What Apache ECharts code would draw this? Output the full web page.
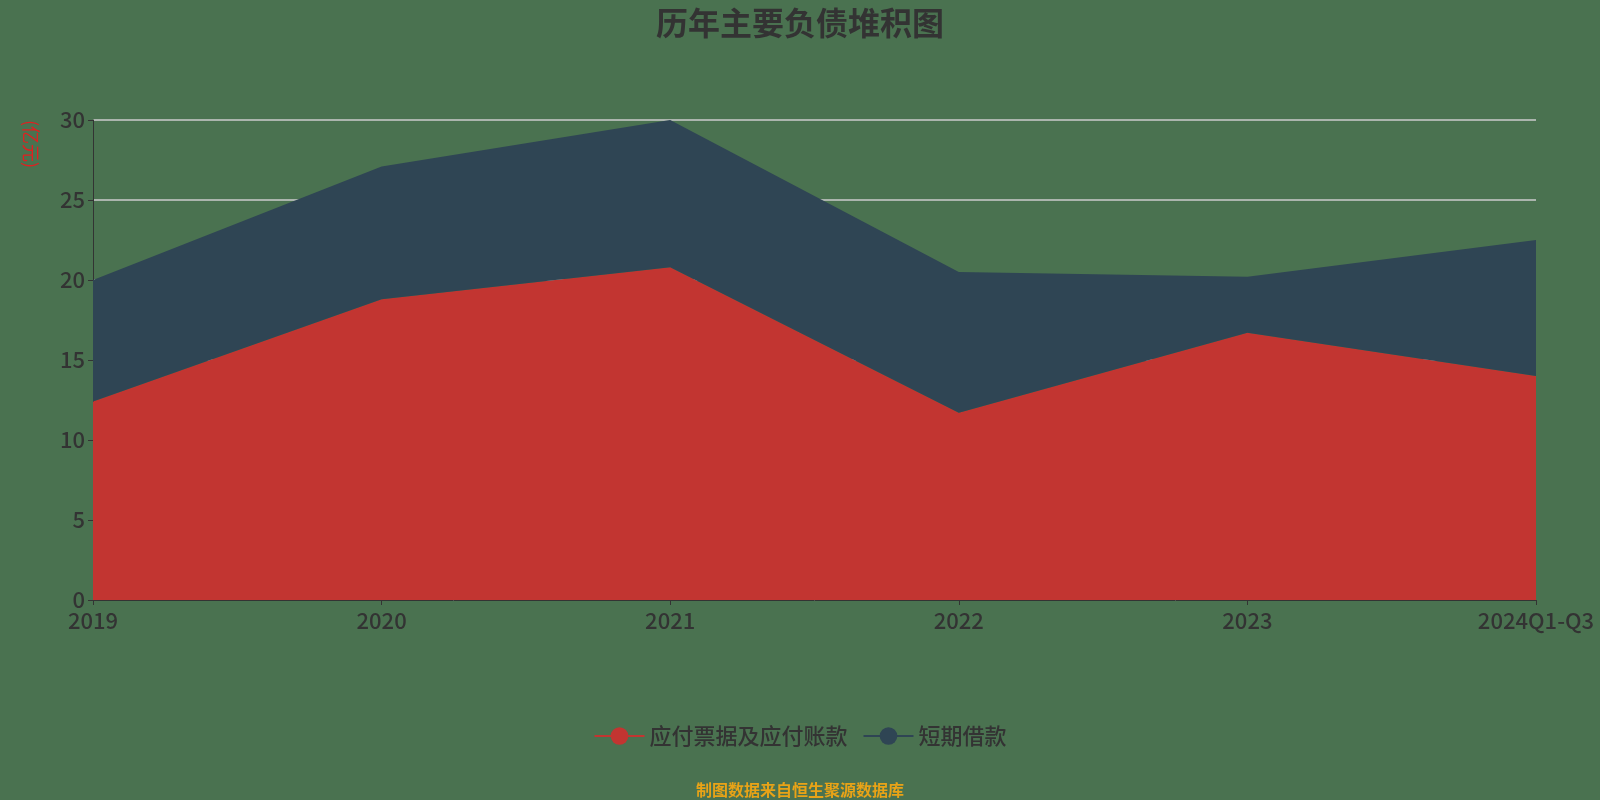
<!DOCTYPE html><html><head><meta charset="utf-8"><script src="https://cdn.jsdelivr.net/npm/echarts@6/dist/echarts.min.js"></script>
<style>html,body{margin:0;background:#4a7250}#c{width:1600px;height:800px}</style></head><body><div id="c"></div><script>
const categories=['2019','2020','2021','2022','2023','2024Q1-Q3'];
const payables=[12.4,18.8,20.8,11.7,16.7,14.0];
const shortLoans=[7.6,8.3,9.2,8.8,3.5,8.5];
const ff='"Noto Sans CJK SC","Noto Sans",sans-serif';
const chart=echarts.init(document.getElementById('c'));
chart.setOption({
backgroundColor:'#4a7250',
title:{text:'历年主要负债堆积图',left:'center',top:2,textStyle:{fontSize:32,fontWeight:'bold',color:'#333',fontFamily:ff}},
graphic:[{type:'text',left:'center',bottom:2,style:{text:'制图数据来自恒生聚源数据库',fill:'#e8a317',fontSize:16,fontWeight:'bold',fontFamily:ff}},
{type:'text',x:40,y:120,rotation:-Math.PI/2,style:{text:'(亿元)',fill:'#e02020',fontSize:18,fontFamily:ff}}],
legend:{bottom:48,itemWidth:50,itemHeight:22,itemGap:15,lineStyle:{width:2},textStyle:{fontSize:22,fontWeight:500,color:'#333',fontFamily:ff},data:['应付票据及应付账款','短期借款']},
grid:{left:93,right:64,top:120,bottom:200},
xAxis:{type:'category',boundaryGap:false,data:categories,axisLine:{lineStyle:{color:'#333'}},axisTick:{show:true,lineStyle:{color:'#333'}},axisLabel:{fontSize:22,fontWeight:500,color:'#333',fontFamily:ff,margin:10}},
yAxis:{type:'value',min:0,max:30,interval:5,axisLine:{show:true,lineStyle:{color:'#333'}},axisTick:{show:true,lineStyle:{color:'#333'}},axisLabel:{fontSize:22,fontWeight:500,color:'#333',fontFamily:ff},splitLine:{lineStyle:{color:'#ccc',width:1.5}}},
series:[
{name:'应付票据及应付账款',type:'line',stack:'a',data:payables,symbol:'circle',symbolSize:22,showSymbol:false,itemStyle:{color:'#c23531'},lineStyle:{width:0},areaStyle:{color:'#c23531',opacity:1}},
{name:'短期借款',type:'line',stack:'a',data:shortLoans,symbol:'circle',symbolSize:22,showSymbol:false,itemStyle:{color:'#2f4554'},lineStyle:{width:0},areaStyle:{color:'#2f4554',opacity:1}}
]});
</script></body></html>
